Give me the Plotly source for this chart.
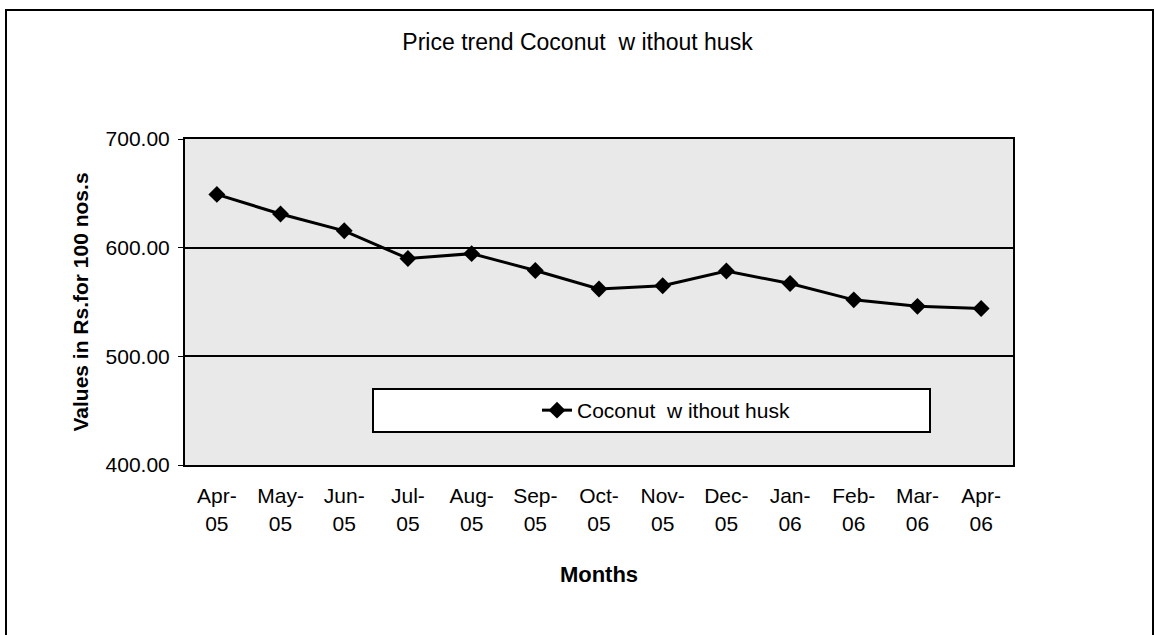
import plotly.graph_objects as go

months = ["Apr-05", "May-05", "Jun-05", "Jul-05", "Aug-05", "Sep-05", "Oct-05",
          "Nov-05", "Dec-05", "Jan-06", "Feb-06", "Mar-06", "Apr-06"]
prices = [649, 631, 615.5, 590, 594.5, 579, 562, 565, 578.5, 567, 552, 546, 544]
tick_labels = [m.replace("-", "-<br>") for m in months]
y_ticks = [400, 500, 600, 700]
y_tick_labels = ["400.00", "500.00", "600.00", "700.00"]

FONT = "Liberation Sans, Arial, sans-serif"
W, H = 1155, 635
L, R, T, B = 185, 142, 139, 170
PW, PH = W - L - R, H - T - B

fig = go.Figure()
fig.add_trace(go.Scatter(
    x=list(range(len(months))), y=prices, mode="lines+markers",
    name="Coconut  w ithout husk",
    line=dict(color="black", width=3),
    marker=dict(symbol="diamond", size=13, color="black"),
))

fig.update_layout(
    width=W, height=H,
    margin=dict(l=L, r=R, t=T, b=B),
    paper_bgcolor="white", plot_bgcolor="#e9e9e9",
    font=dict(family=FONT, color="black", size=21),
    title=dict(text="Price trend Coconut  w ithout husk", x=577.5 / W, xanchor="center",
               y=1 - 42 / H, yanchor="middle", yref="container",
               font=dict(size=23, family=FONT, color="black")),
    showlegend=True,
    legend=dict(x=(666 - L) / PW, y=(465 - 410.5) / PH, xanchor="center", yanchor="middle",
                bgcolor="rgba(0,0,0,0)", font=dict(size=21, family=FONT)),
    xaxis=dict(range=[-0.5, len(months) - 0.5], tickvals=list(range(len(months))),
               ticktext=tick_labels, showgrid=False, showline=True, linecolor="black",
               linewidth=2, mirror=True, ticks="", zeroline=False,
               tickfont=dict(size=21), ticklabelstandoff=11,
               title=dict(text="<b>Months</b>", font=dict(size=22), standoff=33)),
    yaxis=dict(range=[400, 700], tickvals=y_ticks, ticktext=y_tick_labels,
               showgrid=True, gridcolor="black", gridwidth=1.5,
               showline=True, linecolor="black", linewidth=2, mirror=True,
               ticks="outside", ticklen=5, tickcolor="black", zeroline=False,
               tickfont=dict(size=21), ticklabelstandoff=4,
               title=dict(text="<b>Values in Rs.for 100 nos.s</b>", font=dict(size=21), standoff=11)),
)

# legend box
fig.add_shape(type="rect", xref="paper", yref="paper",
              x0=(373 - L) / PW, x1=(930 - L) / PW,
              y0=(465 - 432) / PH, y1=(465 - 389) / PH,
              line=dict(color="black", width=2), fillcolor="white", layer="below")
# outer chart border
fig.add_shape(type="rect", xref="paper", yref="paper",
              x0=(6 - L) / PW, x1=(1153 - L) / PW,
              y0=(465 - 645) / PH, y1=(465 - 10) / PH,
              line=dict(color="black", width=2), fillcolor="rgba(0,0,0,0)")

fig.write_html("out.html", config={"displayModeBar": False},
               post_script="document.body.style.margin='0px';document.body.style.overflow='hidden';")
